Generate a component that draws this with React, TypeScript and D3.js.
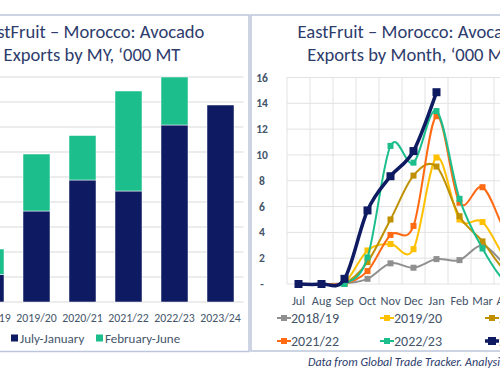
import React from 'react';
import * as d3 from 'd3';

// ---------- Left chart data (marketing years, '000 MT) ----------
const seasons = ['2018/19', '2019/20', '2020/21', '2021/22', '2022/23', '2023/24'];
const julyJanuary = [5.5, 18.2, 24.4, 22.2, 35.4, 39.4];
const februaryJune = [5.1, 11.4, 8.9, 20.0, 9.6, 0];
const barSeriesNames = ['July-January', 'February-June'];

// ---------- Right chart data (monthly, '000 MT) ----------
const months = ['Jul', 'Aug', 'Sep', 'Oct', 'Nov', 'Dec', 'Jan', 'Feb', 'Mar', 'Apr', 'May', 'Jun'];
const s2018 = [0, 0, 0.05, 0.4, 1.6, 1.26, 1.93, 1.85, 3.0, 1.5, 0.6, 0.2];
const s2019 = [0, 0, 0.1, 2.6, 3.1, 2.7, 9.8, 5.0, 4.8, 2.0, 0.6, 0.2];
const s2020 = [0, 0, 0.05, 1.7, 5.0, 8.4, 9.1, 5.25, 3.3, 1.0, 0.3, 0.1];
const s2021 = [0, 0, 0.05, 1.0, 3.8, 4.5, 13.0, 6.3, 7.5, 4.0, 1.0, 0.2];
const s2022 = [0, 0, 0, 2.06, 10.7, 9.4, 13.4, 6.6, 2.75, 0.2, 0.1, 0];
const s2023 = [0, 0, 0.4, 5.7, 8.35, 10.3, 14.86];
const lineNames = ['2018/19', '2019/20', '2020/21', '2021/22', '2022/23', '2023/24'];
const yTicks = [0, 2, 4, 6, 8, 10, 12, 14, 16];

const NAVY = '#0E1A62';
const GREEN = '#1CBE8C';
const TEXT = '#44546A';
const TITLE = '#2E3C6C';
const lineColors = ['#8F8F8F', '#FFC000', '#BF9000', '#FF6A13', GREEN, NAVY];
const FONT = "Carlito, 'Liberation Sans Narrow', 'Open Sans', sans-serif";

export default function App() {
  // Left chart scales
  const xb = d3.scaleBand<string>().domain(seasons).range([-32.5, 243.5]).paddingInner(0.413).paddingOuter(0.2065);
  const yb = d3.scaleLinear().domain([0, 45]).range([302, 77]);
  const stack = d3.stack<number>().keys(['a', 'b'] as any).value((i: any, k: any) => (k === 'a' ? julyJanuary[i] : februaryJune[i]));
  const stacked = stack(seasons.map((_, i) => i) as any);
  const barColors = [NAVY, GREEN];

  // Right chart scales
  const xm = d3.scaleBand<string>().domain(months).range([287, 287 + 23 * 12]);
  const ym = d3.scaleLinear().domain([0, 16]).range([284, 77.5]);
  const series = [s2018, s2019, s2020, s2021, s2022, s2023];
  const line = d3
    .line<number>()
    .x((_, i) => (xm(months[i]) as number) + xm.bandwidth() / 2)
    .y((v) => ym(v))
    .curve(d3.curveCatmullRom.alpha(0));

  const legendPos = [
    [277, 318], [380, 318], [485, 318],
    [277, 341], [380, 341], [485, 341],
  ];

  return (
    <svg width={500} height={375} style={{ position: 'absolute', left: 0, top: 0, background: '#fff' }} fontFamily={FONT}>
      <rect x={0} y={0} width={500} height={375} fill="#fff" />
      {/* panel borders */}
      <rect x={-10} y={15} width={259} height={336.5} fill="none" stroke="#BCC6DA" strokeWidth={1.5} />
      <rect x={251} y={15} width={270} height={336} fill="none" stroke="#BCC6DA" strokeWidth={1.5} />

      {/* ---------- LEFT CHART ---------- */}
      <g>
        <text x={92} y={38} textAnchor="middle" fontSize={18.6} fill={TITLE}>EastFruit – Morocco: Avocado</text>
        <text x={92} y={60.5} textAnchor="middle" fontSize={18.6} fill={TITLE}>Exports by MY, ‘000 MT</text>
        {d3.range(0, 46, 5).map((v) => (
          <line key={v} x1={-10} x2={243.5} y1={yb(v)} y2={yb(v)} stroke="#D9D9D9" strokeWidth={1} />
        ))}
        {stacked.map((layer: any, li: number) => (
          <g key={li}>
            {layer.map((d: any, i: number) =>
              d[1] - d[0] > 0 ? (
                <rect
                  key={i}
                  x={xb(seasons[i])}
                  width={xb.bandwidth()}
                  y={yb(d[1])}
                  height={yb(d[0]) - yb(d[1])}
                  fill={barColors[li]}
                  stroke="#fff"
                  strokeWidth={0.5}
                />
              ) : null
            )}
          </g>
        ))}
        {seasons.map((s) => (
          <text key={s} x={(xb(s) as number) + xb.bandwidth() / 2} y={322} textAnchor="middle" fontSize={11.8} fill={TEXT}>
            {s}
          </text>
        ))}
        {barSeriesNames.map((n, i) => (
          <g key={n}>
            <rect x={[11, 96][i]} y={334.5} width={7} height={7} fill={barColors[i]} />
            <text x={[20, 105][i]} y={342.5} fontSize={13} fill={TEXT}>{n}</text>
          </g>
        ))}
      </g>

      {/* ---------- RIGHT CHART ---------- */}
      <g>
        <text x={410} y={38} textAnchor="middle" fontSize={18.6} fill={TITLE}>EastFruit – Morocco: Avocado</text>
        <text x={410} y={60.5} textAnchor="middle" fontSize={18.6} fill={TITLE}>Exports by Month, ‘000 MT</text>
        {yTicks.map((v) => (
          <line key={v} x1={287} x2={570} y1={ym(v)} y2={ym(v)} stroke="#E2E2E2" strokeWidth={1} />
        ))}
        {d3.range(0, 13).map((i) => (
          <line key={i} x1={287 + 23 * i} x2={287 + 23 * i} y1={ym(16)} y2={ym(0)} stroke="#E2E2E2" strokeWidth={1} />
        ))}
        {yTicks.map((v) => (
          <text key={v} x={262} y={ym(v) + 4} textAnchor="middle" fontSize={11.5} fontWeight="bold" fill={TEXT}>
            {v === 0 ? '-' : v}
          </text>
        ))}
        {months.map((m) => (
          <text key={m} x={(xm(m) as number) + xm.bandwidth() / 2} y={304.5} textAnchor="middle" fontSize={12.3} fill={TEXT}>
            {m}
          </text>
        ))}
        {series.map((s, si) => {
          const isNavy = si === 5;
          const ms = isNavy ? 8 : 6;
          return (
            <g key={si}>
              <path d={line(s) as string} fill="none" stroke={lineColors[si]} strokeWidth={isNavy ? 3.5 : 2} />
              {s.map((v, i) => (
                <rect
                  key={i}
                  x={(xm(months[i]) as number) + xm.bandwidth() / 2 - ms / 2}
                  y={ym(v) - ms / 2}
                  width={ms}
                  height={ms}
                  fill={lineColors[si]}
                />
              ))}
            </g>
          );
        })}
        {lineNames.map((n, i) => {
          const [lx, ly] = legendPos[i];
          const isNavy = i === 5;
          return (
            <g key={n}>
              <line x1={lx} x2={lx + 14} y1={ly} y2={ly} stroke={lineColors[i]} strokeWidth={isNavy ? 3.5 : 2} />
              <rect x={lx + 7 - (isNavy ? 4 : 3)} y={ly - (isNavy ? 4 : 3)} width={isNavy ? 8 : 6} height={isNavy ? 8 : 6} fill={lineColors[i]} />
              <text x={lx + 14} y={ly + 5} fontSize={14} fill={TEXT}>{n}</text>
            </g>
          );
        })}
        <text x={308} y={366} fontSize={12} fontStyle="italic" fill="#2B3A6B">
          Data from Global Trade Tracker. Analysis by EastFruit
        </text>
      </g>
    </svg>
  );
}
